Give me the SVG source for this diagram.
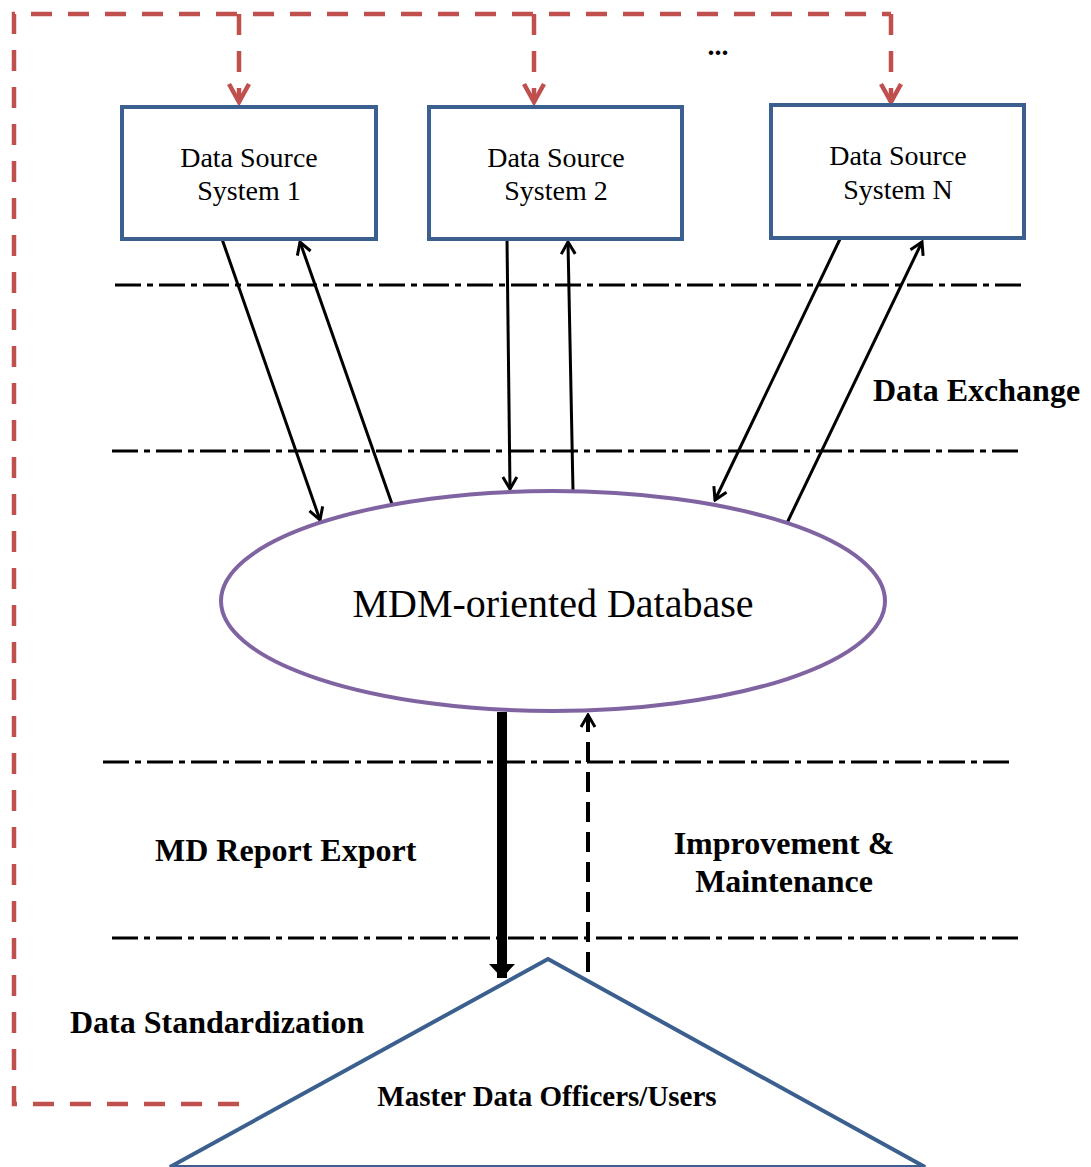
<svg xmlns="http://www.w3.org/2000/svg" width="1091" height="1167" viewBox="0 0 1091 1167">
<defs>
<style>
.box{fill:#fff;stroke:#3B5F8E;stroke-width:4}
.lbl{font-family:"Liberation Serif","Times New Roman",serif;fill:#000}
.bold{font-family:"Liberation Serif","Times New Roman",serif;font-weight:bold;fill:#000}
.sep{stroke:#000;stroke-width:3;stroke-dasharray:26 6 6 6;fill:none}
.red{stroke:#C0504D;stroke-width:4.5;stroke-dasharray:21 16;fill:none}
.thin{stroke:#000;stroke-width:3;fill:none}
</style>
<marker id="open" viewBox="0 0 20 20" refX="18" refY="10" markerWidth="20" markerHeight="20" markerUnits="userSpaceOnUse" orient="auto">
<path d="M6,3 L18,10 L6,17" fill="none" stroke="#000" stroke-width="3"/>
</marker>
<marker id="redhead" viewBox="0 0 24 24" refX="21" refY="12" markerWidth="24" markerHeight="24" markerUnits="userSpaceOnUse" orient="auto">
<path d="M3,2 L21,12 L3,22" fill="none" stroke="#C0504D" stroke-width="4.5"/>
</marker>
<marker id="solid" viewBox="0 0 16 28" refX="14" refY="14" markerWidth="16" markerHeight="28" markerUnits="userSpaceOnUse" orient="auto">
<path d="M0,1 L14,14 L0,27 Z" fill="#000"/>
</marker>
</defs>
<rect width="1091" height="1167" fill="#fff"/>

<g id="separators">
<line class="sep" x1="115" y1="285" x2="1022" y2="285"/>
<line class="sep" x1="112" y1="451" x2="1020" y2="451"/>
<line class="sep" x1="103" y1="762" x2="1012" y2="762"/>
<line class="sep" x1="112" y1="938" x2="1020" y2="938"/>
</g>

<g id="connectors">
<path class="red" d="M239,1104 L14,1104 L14,14 L891,14"/>
<path class="red" d="M239,14 L239,102" marker-end="url(#redhead)"/>
<path class="red" d="M534,14 L534,102" marker-end="url(#redhead)"/>
<path class="red" d="M891,14 L891,102" marker-end="url(#redhead)"/>
<line class="thin" x1="222" y1="239" x2="320" y2="520" marker-end="url(#open)"/>
<line class="thin" x1="392" y1="504" x2="300" y2="242" marker-end="url(#open)"/>
<line class="thin" x1="507" y1="239" x2="510" y2="489" marker-end="url(#open)"/>
<line class="thin" x1="573" y1="491" x2="568" y2="242" marker-end="url(#open)"/>
<line class="thin" x1="840" y1="239" x2="715" y2="500" marker-end="url(#open)"/>
<line class="thin" x1="787" y1="523" x2="922" y2="242" marker-end="url(#open)"/>
<line x1="502" y1="712" x2="502" y2="978" stroke="#000" stroke-width="10" marker-end="url(#solid)"/>
<line x1="588" y1="972" x2="588" y2="715" stroke="#000" stroke-width="4" stroke-dasharray="20 10" marker-end="url(#open)"/>
</g>

<g id="node-ds1">
<rect class="box" x="122" y="107" width="254" height="132"/>
<text class="lbl" font-size="28" text-anchor="middle"><tspan x="249" y="167">Data Source</tspan><tspan x="249" y="200">System 1</tspan></text>
</g>
<g id="node-ds2">
<rect class="box" x="429" y="107" width="253" height="132"/>
<text class="lbl" font-size="28" text-anchor="middle"><tspan x="556" y="167">Data Source</tspan><tspan x="556" y="200">System 2</tspan></text>
</g>
<g id="node-dsn">
<rect class="box" x="771" y="105" width="253" height="133"/>
<text class="lbl" font-size="28" text-anchor="middle"><tspan x="898" y="165">Data Source</tspan><tspan x="898" y="199">System N</tspan></text>
</g>
<text class="bold" x="718" y="55" font-size="28" text-anchor="middle">...</text>

<g id="node-db">
<ellipse cx="553" cy="601" rx="332" ry="110" fill="#fff" stroke="#8064A2" stroke-width="4"/>
<text class="lbl" x="553" y="617" font-size="40" text-anchor="middle">MDM-oriented Database</text>
</g>

<g id="node-users">
<polygon points="548,959 925,1167 170,1167" fill="#fff" stroke="#3B5F8E" stroke-width="4"/>
<text class="bold" x="547" y="1106" font-size="29" text-anchor="middle">Master Data Officers/Users</text>
</g>

<g id="labels">
<text class="bold" x="873" y="401" font-size="32">Data Exchange</text>
<text class="bold" x="155" y="861" font-size="32">MD Report Export</text>
<text class="bold" font-size="32" text-anchor="middle"><tspan x="784" y="854">Improvement &amp;</tspan><tspan x="784" y="892">Maintenance</tspan></text>
<text class="bold" x="70" y="1033" font-size="32">Data Standardization</text>
</g>
</svg>
